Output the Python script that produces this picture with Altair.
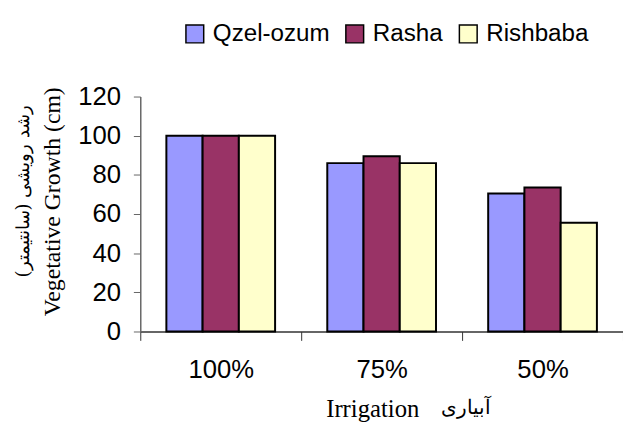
import altair as alt
import pandas as pd

irrigation = ["100%", "75%", "50%"]
varieties = ["Qzel-ozum", "Rasha", "Rishbaba"]
qzel = [100, 86, 70.5]
rasha = [100, 89.5, 73.5]
rishbaba = [100, 86, 55.5]
colors = ["#9999FF", "#993366", "#FFFFCC"]
y_ticks = [0, 20, 40, 60, 80, 100, 120]

rows = []
for v, vals in zip(varieties, [qzel, rasha, rishbaba]):
    for irr, val in zip(irrigation, vals):
        rows.append({"Irrigation": irr, "Variety": v, "Growth": val})
df = pd.DataFrame(rows)

bars = alt.Chart(df).mark_bar(stroke="black", strokeWidth=2, opacity=1).encode(
    x=alt.X("Irrigation:N", sort=irrigation,
            scale=alt.Scale(paddingInner=0, paddingOuter=0),
            axis=alt.Axis(title="Irrigation", labelAngle=0, labelFont="Liberation Sans",
                          labelFontSize=26, labelColor="black", labelPadding=17,
                          tickBand="extent", tickSize=9, tickColor="#333",
                          domainColor="#333", domainWidth=1.5,
                          titleFont="Liberation Serif", titleFontSize=25,
                          titleFontWeight="normal", titleColor="black",
                          titleX=235, titleY=86, titleAlign="center",
                          titleBaseline="alphabetic")),
    xOffset=alt.XOffset("Variety:N", sort=varieties,
                        scale=alt.Scale(paddingInner=0, paddingOuter=0.72)),
    y=alt.Y("Growth:Q", scale=alt.Scale(domain=[0, 120], nice=False),
            axis=alt.Axis(values=y_ticks, grid=False, title="Vegetative Growth (cm)",
                          labelFont="Liberation Sans", labelFontSize=26, labelColor="black",
                          labelPadding=13, tickSize=7, tickColor="#666",
                          domainColor="#666", domainWidth=1.5,
                          titleFont="Liberation Serif", titleFontSize=24,
                          titleFontWeight="normal", titleColor="black",
                          titleX=-82, titleY=106, titleAngle=-90, titleAlign="center",
                          titleBaseline="alphabetic")),
    color=alt.Color("Variety:N", sort=varieties,
                    scale=alt.Scale(domain=varieties, range=colors),
                    legend=alt.Legend(title=None, orient="none", legendX=43, legendY=-76,
                                      direction="horizontal", symbolType="square",
                                      symbolSize=324, symbolStrokeColor="black",
                                      symbolStrokeWidth=1.5, labelFont="Liberation Sans",
                                      labelFontSize=24.5, labelColor="black", labelOffset=6,
                                      columnPadding=13, symbolOpacity=1)),
)

note = pd.DataFrame({"t": [0]})
y_fa = alt.Chart(note).mark_text(
    text="(رشد رویشی (سانتیمتر", angle=270, font="DejaVu Serif", fontSize=18,
    color="black", align="center", baseline="alphabetic"
).encode(x=alt.value(-113), y=alt.value(96))

x_fa = alt.Chart(note).mark_text(
    text="آبیاری", font="DejaVu Serif", fontSize=20, color="black",
    align="center", baseline="alphabetic"
).encode(x=alt.value(330), y=alt.value(322))

chart = alt.layer(bars, y_fa, x_fa).properties(
    width=489, height=238,
    autosize=alt.AutoSizeParams(type="none"),
    padding={"left": 134, "top": 87, "right": 0, "bottom": 90},
).configure_view(stroke=None)

chart.save("out.html", embed_options={"renderer": "svg", "actions": False})
